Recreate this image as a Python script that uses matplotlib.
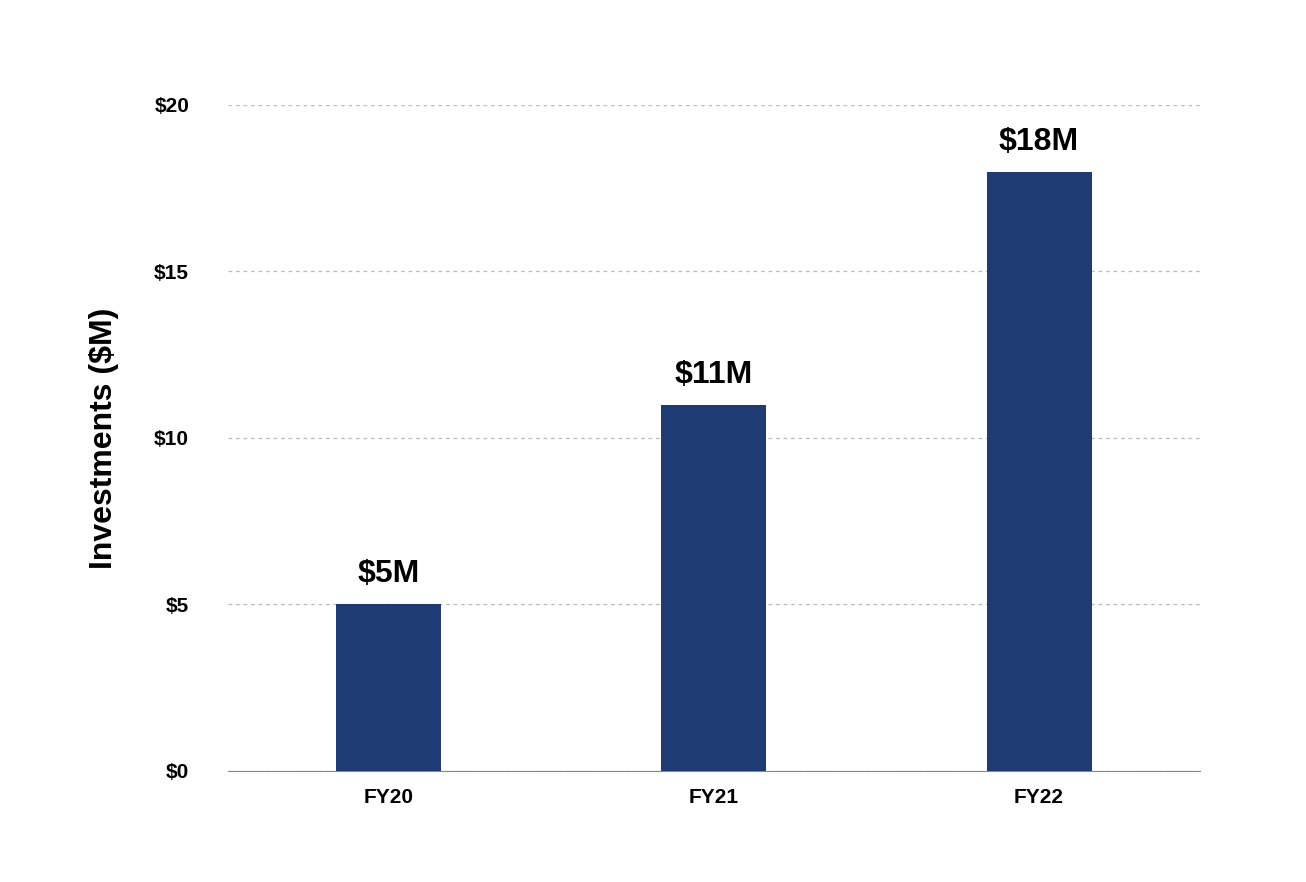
import matplotlib
matplotlib.use("Agg")
import matplotlib.pyplot as plt

categories = ["FY20", "FY21", "FY22"]
values = [5, 11, 18]
labels = ["$5M", "$11M", "$18M"]
yticks = [0, 5, 10, 15, 20]
yticklabels = ["$0", "$5", "$10", "$15", "$20"]

plt.rcParams["font.family"] = "Liberation Sans"
fig = plt.figure(figsize=(13.06, 8.82), dpi=100)
ax = fig.add_axes([0.1746, 0.1259, 0.7442, 0.7551])
x = list(range(len(categories)))
ax.bar(x, values, width=0.323, color="#1F3B73", zorder=3)
for xi, v, l in zip(x, values, labels):
    ax.text(xi, v + 0.45, l, ha="center", va="bottom", fontsize=23, fontweight="bold")
ax.set_xlim(-0.495, 2.495)
ax.set_ylim(0, 20)
ax.set_xticks(x)
ax.set_xticklabels(categories, fontsize=15, fontweight="bold")
ax.set_yticks(yticks)
ax.set_yticklabels(yticklabels, fontsize=15, fontweight="bold")
ax.tick_params(length=0, pad=12)
ax.tick_params(axis="y", pad=28)
ax.grid(axis="y", linestyle=(0, (3, 3)), color="#BBBBBB", linewidth=0.9, zorder=0)
for s in ["top", "right", "left"]:
    ax.spines[s].set_visible(False)
ax.spines["bottom"].set_color("#888888")
ax.set_ylabel("Investments ($M)", fontsize=23, fontweight="bold", labelpad=25)
fig.savefig("out.png", dpi=100)
